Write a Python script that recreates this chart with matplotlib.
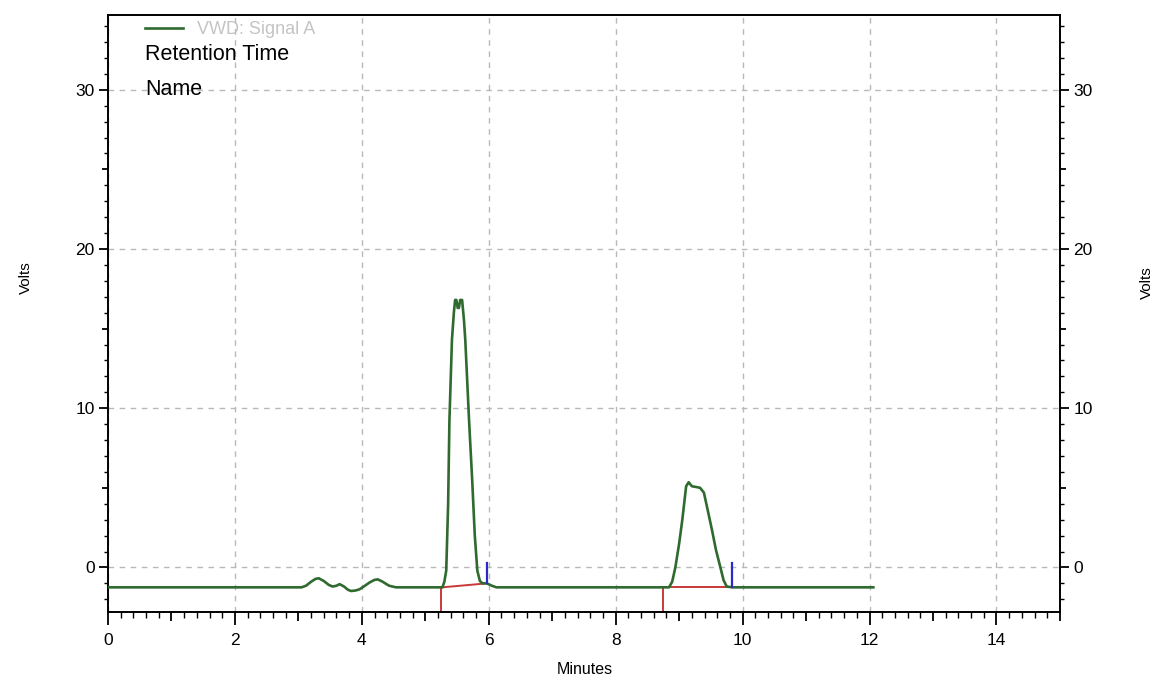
import matplotlib
matplotlib.use("Agg")
import matplotlib.pyplot as plt
from matplotlib import font_manager
from matplotlib.ticker import MultipleLocator, FuncFormatter

# detector trace (minutes, volts)
time_min = [0.0, 3.05, 3.12, 3.2, 3.27, 3.32, 3.4, 3.48, 3.54, 3.6, 3.65, 3.72,
            3.78, 3.83, 3.9, 3.96, 4.03, 4.12, 4.2, 4.25, 4.32, 4.43, 4.54,
            5.27, 5.3, 5.33, 5.36, 5.38, 5.42, 5.45, 5.47, 5.49, 5.51, 5.53,
            5.55, 5.58, 5.61, 5.63, 5.69, 5.74, 5.78, 5.82, 5.86, 5.9, 5.97,
            6.05, 6.12, 8.84, 8.89, 8.94, 9.0, 9.05, 9.11, 9.15, 9.2, 9.27,
            9.33, 9.39, 9.45, 9.52, 9.58, 9.65, 9.7, 9.75, 9.84, 12.06]
signal_v = [-1.25, -1.25, -1.15, -0.9, -0.72, -0.68, -0.85, -1.1, -1.2, -1.15, -1.05, -1.2,
            -1.4, -1.48, -1.45, -1.38, -1.2, -0.95, -0.78, -0.75, -0.88, -1.15, -1.25,
            -1.25, -0.9, -0.2, 4.0, 9.2, 14.3, 16.0, 16.8, 16.8, 16.3, 16.3,
            16.8, 16.8, 15.5, 14.3, 9.2, 5.4, 2.0, -0.2, -0.85, -1.0, -1.0,
            -1.15, -1.25, -1.25, -0.9, 0.0, 1.5, 3.0, 5.1, 5.35, 5.1, 5.05,
            5.0, 4.7, 3.6, 2.3, 1.1, 0.0, -0.8, -1.2, -1.25, -1.25]

# integration events
peak_start = [5.24, 8.74]
peak_end = [5.97, 9.84]
base_start_v = [-1.26, -1.25]
base_end_v = [-1.0, -1.25]
end_mark_top = [0.25, 0.27]

names = {f.name for f in font_manager.fontManager.ttflist}
narrow = "Liberation Sans Narrow" if "Liberation Sans Narrow" in names else "Liberation Sans"
plt.rcParams["font.family"] = ["Liberation Sans", "DejaVu Sans"]

fig = plt.figure(figsize=(11.56, 6.81), dpi=100)
ax = fig.add_axes([0.0934, 0.1013, 0.8235, 0.8767])

ax.plot(time_min, signal_v, color="#2f6a2f", lw=1.9, label="VWD: Signal A", zorder=3)

ymin, ymax = -2.8, 34.7
for s, e, bs, be, top in zip(peak_start, peak_end, base_start_v, base_end_v, end_mark_top):
    ax.plot([s, e], [bs, be], color="#c83a3a", lw=1.4, zorder=2)
    ax.plot([s, s], [ymin, bs], color="#c83a3a", lw=1.4, zorder=2)
    ax.plot([e, e], [be, top], color="#2a2ac8", lw=1.6, zorder=4)

ax.set_xlim(0, 15)
ax.set_ylim(ymin, ymax)

for sp in ax.spines.values():
    sp.set_linewidth(1.4)

ax.xaxis.set_major_locator(MultipleLocator(1))
ax.xaxis.set_minor_locator(MultipleLocator(0.2))
ax.xaxis.set_major_formatter(FuncFormatter(lambda v, p: "%d" % v if round(v) % 2 == 0 else ""))
ax.yaxis.set_major_locator(MultipleLocator(5))
ax.yaxis.set_minor_locator(MultipleLocator(1))
ax.yaxis.set_major_formatter(FuncFormatter(lambda v, p: "%d" % v if round(v) % 10 == 0 else ""))

ax.tick_params(axis="x", which="major", direction="out", length=9.4, width=1.3, pad=5.5,
               labelsize=12.5, top=False)
ax.tick_params(axis="x", which="minor", direction="out", length=4.3, width=1.0, top=False)
ax.tick_params(axis="y", which="major", direction="out", length=6.5, width=1.3, pad=3,
               labelsize=12.5, left=True, right=True, labelleft=True, labelright=True)
ax.tick_params(axis="y", which="minor", direction="out", length=3.2, width=1.0,
               left=True, right=True)

ax.grid(True, which="major", color="#b8b8b8", linestyle=(0, (4, 4)), linewidth=1.0)

fig.canvas.draw()
for t in ax.xaxis.get_major_ticks():
    v = t.get_loc()
    if round(v) % 2 != 0:
        t.tick1line.set_markersize(6.5)
        t.gridline.set_visible(False)
for t in ax.yaxis.get_major_ticks():
    v = t.get_loc()
    if round(v) % 10 != 0:
        t.tick1line.set_markersize(4.5)
        t.tick2line.set_markersize(4.5)
        t.gridline.set_visible(False)

leg = ax.legend(loc="upper left", bbox_to_anchor=(0.039, 0.990), frameon=False,
                borderpad=0, borderaxespad=0, handlelength=2.1, handletextpad=0.8,
                prop={"family": narrow, "size": 13}, labelcolor="#c4c4c4")

ax.text(0.039, 0.933, "Retention Time", transform=ax.transAxes, va="center", ha="left",
        family=narrow, fontsize=15.5)
ax.text(0.039, 0.876, "Name", transform=ax.transAxes, va="center", ha="left",
        family=narrow, fontsize=15.5)

fig.text(26 / 1156, 1 - 278 / 681, "Volts", rotation=90, ha="center", va="center",
         family=narrow, fontsize=11)
fig.text(1147 / 1156, 1 - 283 / 681, "Volts", rotation=90, ha="center", va="center",
         family=narrow, fontsize=11)
fig.text(585 / 1156, 1 - 670 / 681, "Minutes", ha="center", va="center",
         family=narrow, fontsize=11.5)

fig.savefig("out.png", dpi=100)
plt.close(fig)
